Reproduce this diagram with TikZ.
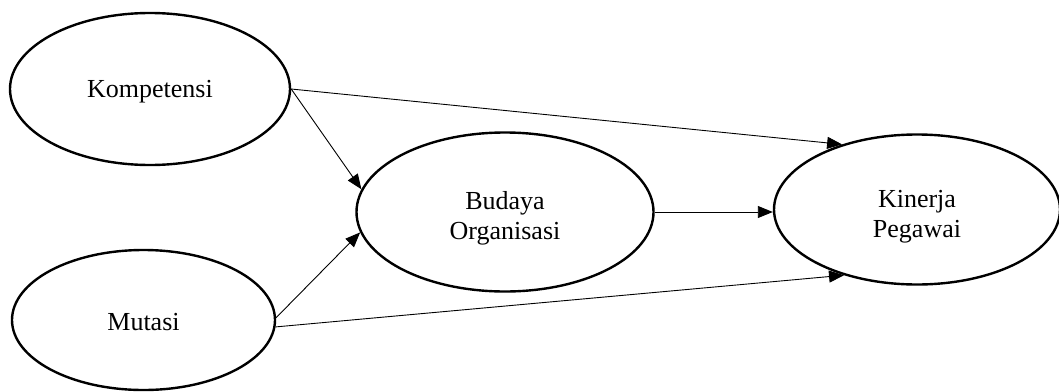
\documentclass[tikz,border=0pt]{standalone}
\usepackage{fontspec}
\setmainfont{Liberation Serif}
\usetikzlibrary{shapes.geometric,arrows.meta}
\begin{document}
\begin{tikzpicture}[x=1pt,y=-1pt,
  construct/.style={ellipse,draw,line width=2.4pt,inner sep=0pt},
  caption/.style={align=center,inner sep=0pt,font={\fontsize{26}{30}\selectfont}},
  path/.style={line width=0.9pt,-{Triangle[length=15pt,width=12pt]}}]
\useasboundingbox (0,0) rectangle (1059,391);
\clip (0,0) rectangle (1059,391);
% latent variables
\node[construct,minimum width=280pt,minimum height=152pt] (komp) at (150,89) {};
\node[construct,minimum width=263pt,minimum height=140pt] (mut) at (143.5,320) {};
\node[construct,minimum width=297pt,minimum height=159pt] (bud) at (505,212) {};
\node[construct,minimum width=286pt,minimum height=150pt] (kin) at (917,209.5) {};
% their names, set a little below each centre
\node[caption] (kompt) at ([yshift=-3pt]komp.center) {Kompetensi};
\node[caption] (mutt) at ([yshift=-2pt]mut.center) {Mutasi};
\node[caption] (budt) at ([yshift=-6pt]bud.center) {Budaya\\Organisasi};
\node[caption] (kint) at ([yshift=-7pt]kin.center) {Kinerja\\Pegawai};
% hypothesised paths
\draw[path] (komp.east) -- (bud.171);
\draw[path] (mut.1) -- (bud.188);
\draw[path] (komp.east) -- (kin.139);
\draw[path] (mut.-3) -- (kin.222);
\draw[path] (bud.east) -- (bud.east -| kin.west);
\end{tikzpicture}
\end{document}
